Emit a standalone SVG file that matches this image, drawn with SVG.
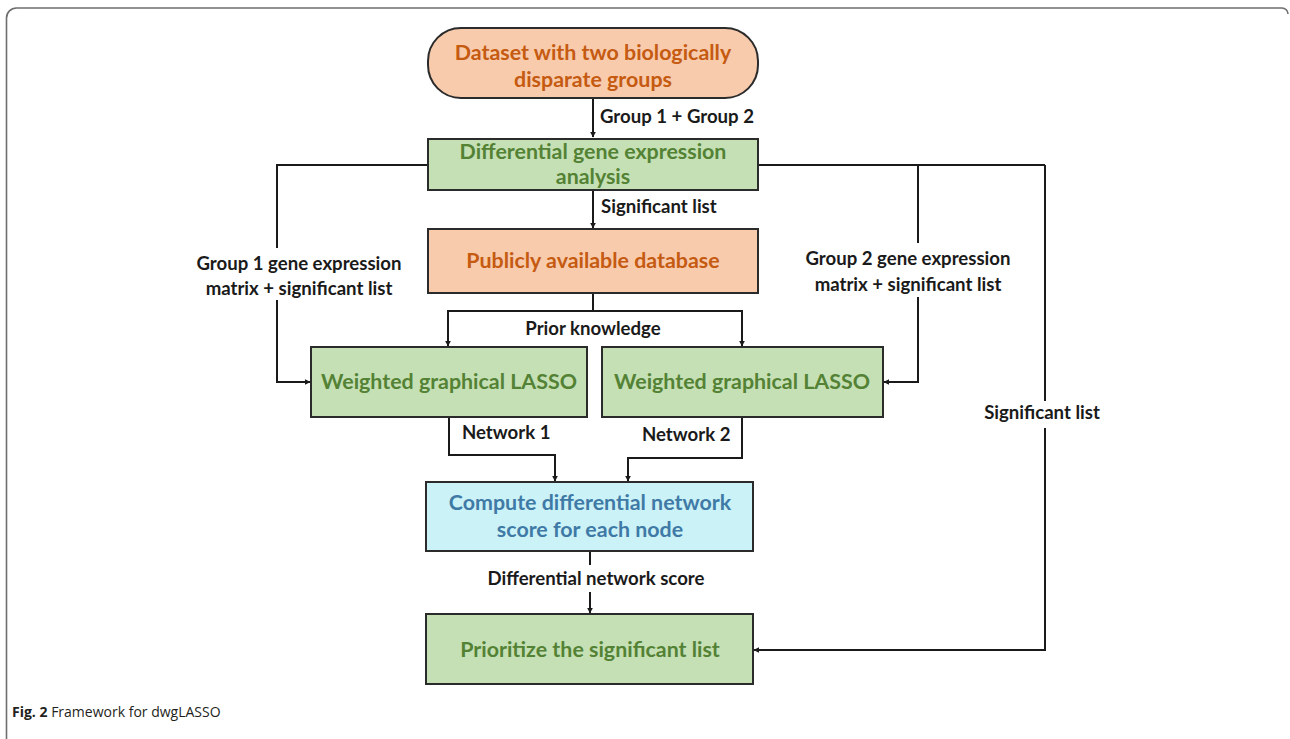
<svg xmlns="http://www.w3.org/2000/svg" width="1290" height="739" viewBox="0 0 1290 739">
<style>
.box{stroke:#2b2b2b;stroke-width:2}
.peach{fill:#f8cbad}
.green{fill:#c5e0b4}
.cyan{fill:#cbf2f7}
.t{font-family:Lato,"Liberation Sans",sans-serif;font-weight:bold;font-size:21.4px;text-anchor:middle}
.to{fill:#c55a11}
.tg{fill:#548235}
.tb{fill:#3f7aa6}
.lb{font-family:Lato,"Liberation Sans",sans-serif;font-weight:bold;font-size:18.6px;fill:#1a1a1a}
.c{fill:none;stroke:#1a1a1a;stroke-width:2}
.cap{font-family:"Open Sans","Liberation Sans",sans-serif;font-size:14px;fill:#231f20}
</style>
<defs>
<marker id="ah" viewBox="0 0 10 10" refX="9" refY="5" markerWidth="6" markerHeight="6" orient="auto" markerUnits="userSpaceOnUse">
<path d="M0,0 L10,5 L0,10 z" fill="#1a1a1a"/>
</marker>
</defs>
<rect width="1290" height="739" fill="#ffffff"/>
<path d="M6.5,739 V18 A10,10 0 0 1 16.5,8 H1282 A6,6 0 0 1 1288,14" fill="none" stroke="#6e6e6e" stroke-width="1.6"/>

<g id="connectors">
<path class="c" d="M593,98 V137" style="marker-end:url(#ah)"/>
<path class="c" d="M593,190 V228" style="marker-end:url(#ah)"/>
<path class="c" d="M593,293 V311 M448,311 H742"/>
<path class="c" d="M448,310 V346" style="marker-end:url(#ah)"/>
<path class="c" d="M742,310 V346" style="marker-end:url(#ah)"/>
<path class="c" d="M428,165 H277 V248 M277,300 V382 H310" style="marker-end:url(#ah)"/>
<path class="c" d="M758,165 H1045 M918,165 V243 M918,297 V382 H884" style="marker-end:url(#ah)"/>
<path class="c" d="M1045,165 V401 M1045,428 V650 H754" style="marker-end:url(#ah)"/>
<path class="c" d="M449,417 V455 H555 V481" style="marker-end:url(#ah)"/>
<path class="c" d="M742,417 V458 H628 V481" style="marker-end:url(#ah)"/>
<path class="c" d="M590,551 V565"/>
<path class="c" d="M590,592 V613" style="marker-end:url(#ah)"/>
<text class="lb" x="600" y="123">Group 1 + Group 2</text>
<text class="lb" x="601" y="213">Significant list</text>
<text class="lb" x="593" y="335" text-anchor="middle">Prior knowledge</text>
<text class="lb" x="299" y="270" text-anchor="middle">Group 1 gene expression</text>
<text class="lb" x="299" y="295" text-anchor="middle">matrix + significant list</text>
<text class="lb" x="908" y="265" text-anchor="middle">Group 2 gene expression</text>
<text class="lb" x="908" y="291" text-anchor="middle">matrix + significant list</text>
<text class="lb" x="1042" y="419" text-anchor="middle">Significant list</text>
<text class="lb" x="462" y="439">Network 1</text>
<text class="lb" x="642" y="441">Network 2</text>
<text class="lb" x="596" y="585" text-anchor="middle">Differential network score</text>
</g>

<g id="dataset">
<rect class="box peach" x="428" y="28" width="330" height="70" rx="33" ry="33"/>
<text class="t to" x="593" y="60">Dataset with two biologically</text>
<text class="t to" x="593" y="87">disparate groups</text>
</g>
<g id="dge">
<rect class="box green" x="428" y="139" width="330" height="51"/>
<text class="t tg" x="593" y="159">Differential gene expression</text>
<text class="t tg" x="593" y="184">analysis</text>
</g>
<g id="database">
<rect class="box peach" x="428" y="229" width="330" height="64"/>
<text class="t to" x="593" y="268">Publicly available database</text>
</g>
<g id="wglasso1">
<rect class="box green" x="311" y="347" width="276" height="70"/>
<text class="t tg" x="449" y="389">Weighted graphical LASSO</text>
</g>
<g id="wglasso2">
<rect class="box green" x="602" y="347" width="281" height="70"/>
<text class="t tg" x="742" y="389">Weighted graphical LASSO</text>
</g>
<g id="compute">
<rect class="box cyan" x="426" y="482" width="327" height="69"/>
<text class="t tb" x="590" y="510">Compute differential network</text>
<text class="t tb" x="590" y="537">score for each node</text>
</g>
<g id="prioritize">
<rect class="box green" x="426" y="614" width="327" height="70"/>
<text class="t tg" x="590" y="657">Prioritize the significant list</text>
</g>
<text class="cap" x="12" y="717"><tspan font-weight="bold">Fig. 2</tspan> Framework for dwgLASSO</text>
</svg>
